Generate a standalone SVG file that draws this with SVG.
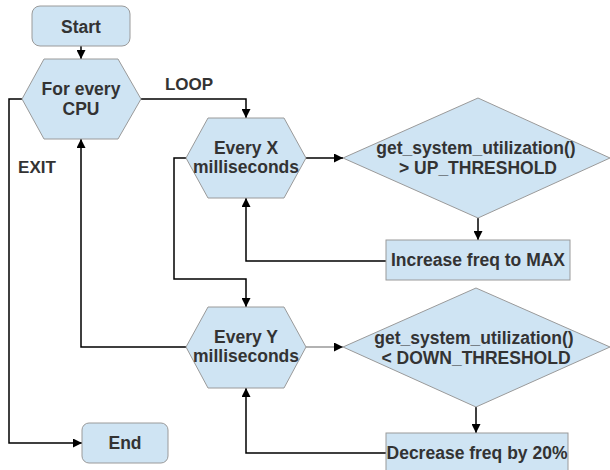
<svg xmlns="http://www.w3.org/2000/svg" width="610" height="470" viewBox="0 0 610 470">
<defs>
<marker id="arr" viewBox="0 0 10 10" refX="10" refY="5" markerWidth="10" markerHeight="9" markerUnits="userSpaceOnUse" orient="auto">
<path d="M0,0 L10,5 L0,10 Z" fill="#000"/>
</marker>
<style>
.n{fill:#cfe4f3;stroke:#9a9a9a;stroke-width:1}
.t{font-family:"Liberation Sans",Arial,sans-serif;font-weight:bold;font-size:17.5px;fill:#333;text-anchor:middle}
.l{font-size:17px}
.c{fill:none;stroke:#000;stroke-width:1.5}
</style>
</defs>
<rect width="610" height="470" fill="#fff"/>
<g id="connectors">
<path class="c" d="M81,46 L81,59" marker-end="url(#arr)"/>
<path class="c" d="M141,99 L246,99 L246,118" marker-end="url(#arr)"/>
<path class="c" d="M306,158 L343,158" marker-end="url(#arr)"/>
<path class="c" d="M478,218 L478,240" marker-end="url(#arr)"/>
<path class="c" d="M386,261 L246,261 L246,198" marker-end="url(#arr)"/>
<path class="c" d="M186,158 L174,158 L174,279 L246,279 L246,307" marker-end="url(#arr)"/>
<path class="c" d="M186,347 L81,347 L81,139" marker-end="url(#arr)"/>
<path class="c" d="M306,347 L343,347" style="stroke:#999" marker-end="url(#arr)"/>
<path class="c" d="M476,407 L476,433" marker-end="url(#arr)"/>
<path class="c" d="M386,453 L246,453 L246,388" marker-end="url(#arr)"/>
<path class="c" d="M22,99 L9,99 L9,443 L82,443" marker-end="url(#arr)"/>
<text class="t l" x="189" y="90">LOOP</text>
<text class="t l" x="37" y="173">EXIT</text>
</g>
<g id="start">
<rect class="n" x="32" y="6" width="98" height="40" rx="8"/>
<text class="t" x="81" y="33">Start</text>
</g>
<g id="forcpu">
<polygon class="n" points="22,99 44,59 118,59 141,99 118,139 44,139"/>
<text class="t" x="81" y="95">For every</text>
<text class="t" x="81" y="115">CPU</text>
</g>
<g id="everyx">
<polygon class="n" points="186,158 208,118 284,118 306,158 284,198 208,198"/>
<text class="t" x="246" y="154">Every X</text>
<text class="t" x="246" y="173">milliseconds</text>
</g>
<g id="cond1">
<polygon class="n" points="343,158 478,98 610,158 478,218"/>
<text class="t" x="476" y="154">get_system_utilization()</text>
<text class="t" x="478" y="174">&gt; UP_THRESHOLD</text>
</g>
<g id="increase">
<rect class="n" x="386" y="240" width="184" height="40"/>
<text class="t" x="478" y="266">Increase freq to MAX</text>
</g>
<g id="everyy">
<polygon class="n" points="186,347 208,307 284,307 306,347 284,388 208,388"/>
<text class="t" x="246" y="343">Every Y</text>
<text class="t" x="246" y="362">milliseconds</text>
</g>
<g id="cond2">
<polygon class="n" points="343,347 476,288 610,347 476,407"/>
<text class="t" x="474" y="344">get_system_utilization()</text>
<text class="t" x="476" y="364">&lt; DOWN_THRESHOLD</text>
</g>
<g id="decrease">
<rect class="n" x="386" y="433" width="182" height="42"/>
<text class="t" x="477" y="459">Decrease freq by 20%</text>
</g>
<g id="end">
<rect class="n" x="82" y="423" width="86" height="40" rx="7"/>
<text class="t" x="125" y="449">End</text>
</g>
</svg>
